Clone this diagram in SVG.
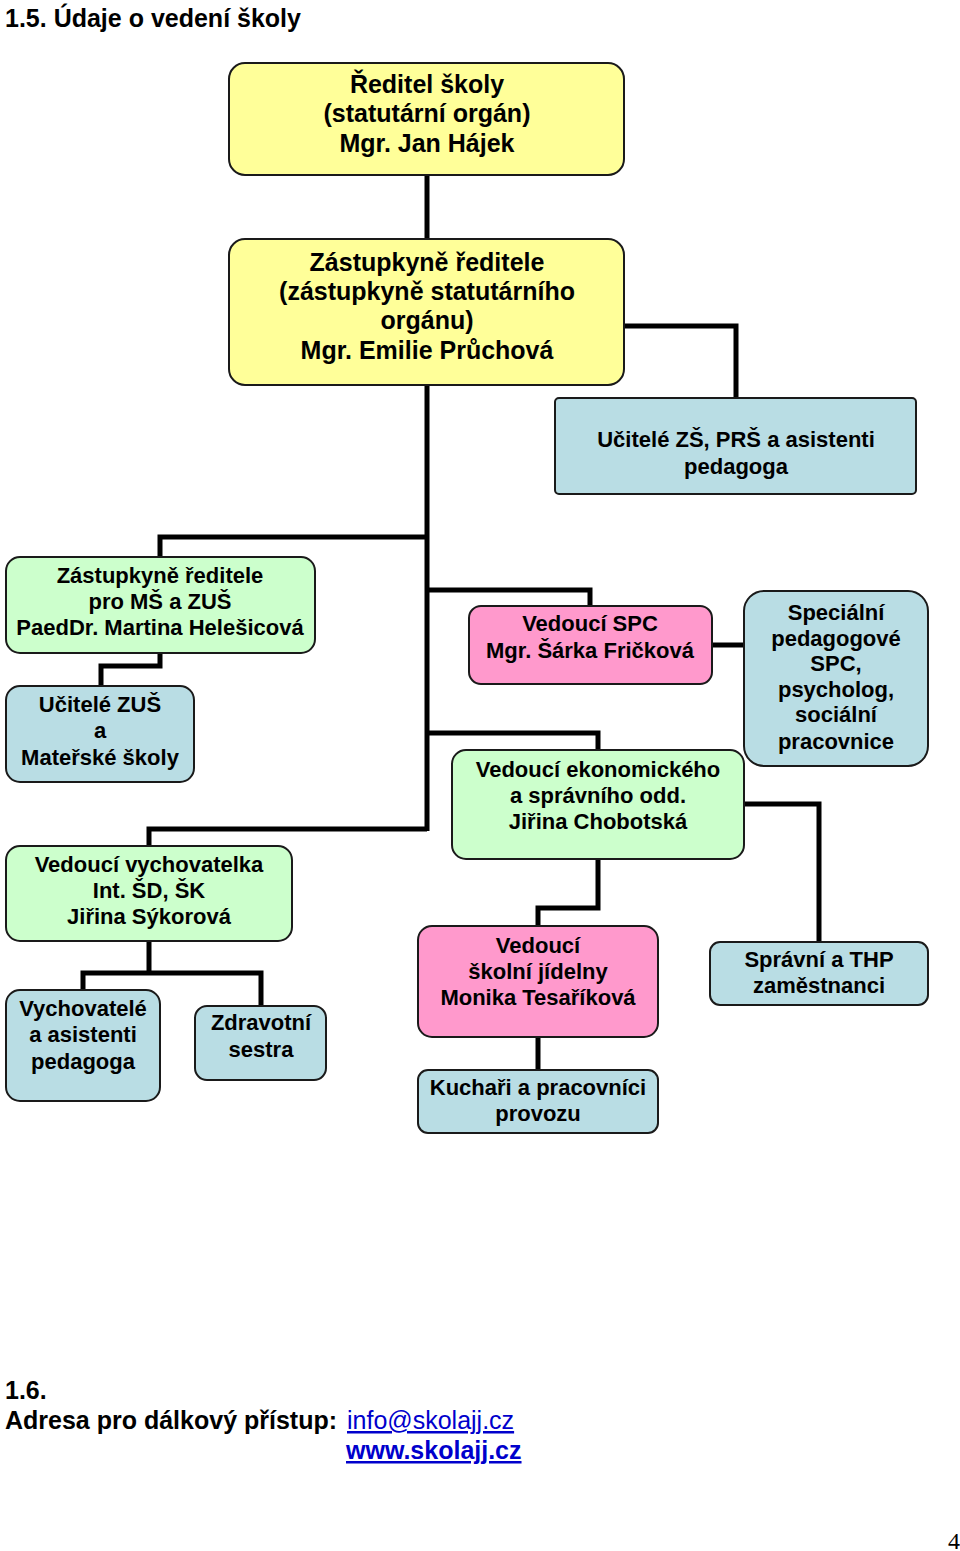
<svg xmlns="http://www.w3.org/2000/svg" width="960" height="1551" viewBox="0 0 960 1551">
<style>
.box{stroke:#1a1a1a;stroke-width:2}
.y{fill:#ffff99}.g{fill:#ccffcc}.p{fill:#ff99cc}.b{fill:#b9dde4}
text{font-family:"Liberation Sans",Arial,sans-serif;font-weight:bold;fill:#000;text-anchor:middle}
.t25{font-size:25px}.t22{font-size:22px}
.conn{fill:none;stroke:#000;stroke-width:5;stroke-linejoin:miter}
.hd{text-anchor:start;font-size:25px}
.lnk{fill:#0000cc;text-anchor:start;font-size:25px;text-decoration:underline}
</style>
<rect width="960" height="1551" fill="#fff"/>
<text class="hd" x="5" y="27" style="font-size:25px">1.5. Údaje o vedení školy</text>
<g id="connectors" class="conn">
<path d="M427 175V239"/>
<path d="M427 385V831"/>
<path d="M624 326H736V398"/>
<path d="M427 537H160V557"/>
<path d="M427 590H590V606"/>
<path d="M427 733H598V750"/>
<path d="M427 829H149V846"/>
<path d="M160 653V666H101V686"/>
<path d="M712 645H744"/>
<path d="M744 804H819V942"/>
<path d="M598 859V908H538V926"/>
<path d="M538 1037V1070"/>
<path d="M149 941V973"/>
<path d="M83 990V973H261V1006"/>
</g>
<g id="reditel"><rect class="box y" x="229" y="63" width="395" height="112" rx="16"/>
<text class="t25" x="427" y="93">Ředitel školy</text>
<text class="t25" x="427" y="122">(statutární orgán)</text>
<text class="t25" x="427" y="152">Mgr. Jan Hájek</text></g>
<g id="zastupkyne"><rect class="box y" x="229" y="239" width="395" height="146" rx="16"/>
<text class="t25" x="427" y="271">Zástupkyně ředitele</text>
<text class="t25" x="427" y="300">(zástupkyně statutárního</text>
<text class="t25" x="427" y="329">orgánu)</text>
<text class="t25" x="427" y="359">Mgr. Emilie Průchová</text></g>
<g id="ucitele-zs"><rect class="box b" x="555" y="398" width="361" height="96" rx="4"/>
<text class="t22" x="736" y="447">Učitelé ZŠ, PRŠ a asistenti</text>
<text class="t22" x="736" y="474">pedagoga</text></g>
<g id="zastupkyne-ms"><rect class="box g" x="6" y="557" width="309" height="96" rx="14"/>
<text class="t22" x="160" y="583">Zástupkyně ředitele</text>
<text class="t22" x="160" y="609">pro MŠ a ZUŠ</text>
<text class="t22" x="160" y="635">PaedDr. Martina Helešicová</text></g>
<g id="ucitele-zus"><rect class="box b" x="6" y="686" width="188" height="96" rx="14"/>
<text class="t22" x="100" y="712">Učitelé ZUŠ</text>
<text class="t22" x="100" y="738">a</text>
<text class="t22" x="100" y="765">Mateřské školy</text></g>
<g id="vedouci-spc"><rect class="box p" x="469" y="606" width="243" height="78" rx="12"/>
<text class="t22" x="590" y="631">Vedoucí SPC</text>
<text class="t22" x="590" y="658">Mgr. Šárka Fričková</text></g>
<g id="specialni"><rect class="box b" x="744" y="591" width="184" height="175" rx="20"/>
<text class="t22" x="836" y="620">Speciální</text>
<text class="t22" x="836" y="646">pedagogové</text>
<text class="t22" x="836" y="671">SPC,</text>
<text class="t22" x="836" y="697">psycholog,</text>
<text class="t22" x="836" y="722">sociální</text>
<text class="t22" x="836" y="749">pracovnice</text></g>
<g id="vedouci-eko"><rect class="box g" x="452" y="750" width="292" height="109" rx="14"/>
<text class="t22" x="598" y="777">Vedoucí ekonomického</text>
<text class="t22" x="598" y="803">a správního odd.</text>
<text class="t22" x="598" y="829">Jiřina Chobotská</text></g>
<g id="spravni"><rect class="box b" x="710" y="942" width="218" height="63" rx="10"/>
<text class="t22" x="819" y="967">Správní a THP</text>
<text class="t22" x="819" y="993">zaměstnanci</text></g>
<g id="vedouci-jidelny"><rect class="box p" x="418" y="926" width="240" height="111" rx="14"/>
<text class="t22" x="538" y="953">Vedoucí</text>
<text class="t22" x="538" y="979">školní jídelny</text>
<text class="t22" x="538" y="1005">Monika Tesaříková</text></g>
<g id="kuchari"><rect class="box b" x="418" y="1070" width="240" height="63" rx="10"/>
<text class="t22" x="538" y="1095">Kuchaři a pracovníci</text>
<text class="t22" x="538" y="1121">provozu</text></g>
<g id="vedouci-vych"><rect class="box g" x="6" y="846" width="286" height="95" rx="14"/>
<text class="t22" x="149" y="872">Vedoucí vychovatelka</text>
<text class="t22" x="149" y="898">Int. ŠD, ŠK</text>
<text class="t22" x="149" y="924">Jiřina Sýkorová</text></g>
<g id="vychovatele"><rect class="box b" x="6" y="990" width="154" height="111" rx="14"/>
<text class="t22" x="83" y="1016">Vychovatelé</text>
<text class="t22" x="83" y="1042">a asistenti</text>
<text class="t22" x="83" y="1069">pedagoga</text></g>
<g id="zdravotni"><rect class="box b" x="195" y="1006" width="131" height="74" rx="12"/>
<text class="t22" x="261" y="1030">Zdravotní</text>
<text class="t22" x="261" y="1057">sestra</text></g>
<text class="hd" x="5" y="1399">1.6.</text>
<text class="hd" x="5" y="1429">Adresa pro dálkový přístup:</text>
<text class="lnk" x="347" y="1429" style="font-weight:normal">info@skolajj.cz</text>
<text class="lnk" x="346" y="1459">www.skolajj.cz</text>
<text x="954" y="1549" style="font-family:'Liberation Serif',serif;font-weight:normal;font-size:24px">4</text>
</svg>
